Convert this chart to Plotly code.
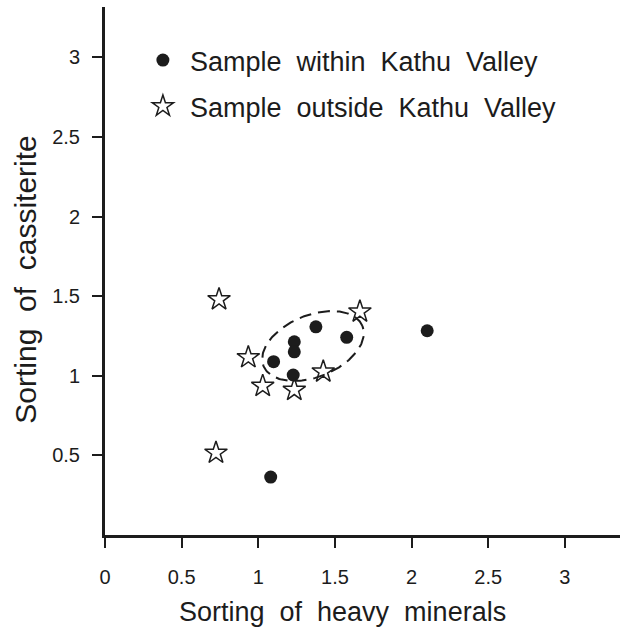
import numpy as np
import plotly.graph_objects as go

# Sorting coefficients of heavy minerals (x) vs cassiterite (y)
within_x = [1.10, 1.235, 1.235, 1.228, 1.376, 1.577, 2.102, 1.081]
within_y = [1.089, 1.214, 1.151, 1.005, 1.308, 1.242, 1.283, 0.364]

outside_x = [0.744, 0.935, 1.029, 1.235, 1.424, 1.663, 0.724]
outside_y = [1.48, 1.116, 0.936, 0.911, 1.026, 1.403, 0.516]

x_ticks = [0, 0.5, 1, 1.5, 2, 2.5, 3]
x_tick_text = ["0", "0.5", "1", "1.5", "2", "2.5", "3"]
y_ticks = [0.5, 1, 1.5, 2, 2.5, 3]
y_tick_text = ["0.5", "1", "1.5", "2", "2.5", "3"]

# Dashed envelope around the Kathu Valley cluster (tilted ellipse)
ENV_CENTER = (1.357, 1.187)
ENV_SEMI = (0.348, 0.202)    # semi-axes, in x-axis units
ENV_ANGLE = np.deg2rad(22)
Y_PER_X = 153.3 / 159.2      # on-screen aspect of the axes

INK = "#1c1c1c"
FONT = "Liberation Sans"
NB = "\u00a0"

t = np.linspace(0, 2 * np.pi, 200)
a, b = ENV_SEMI
ux = a * np.cos(t) * np.cos(ENV_ANGLE) - b * np.sin(t) * np.sin(ENV_ANGLE)
uy = a * np.cos(t) * np.sin(ENV_ANGLE) + b * np.sin(t) * np.cos(ENV_ANGLE)
env_x = ENV_CENTER[0] + ux
env_y = ENV_CENTER[1] + uy * Y_PER_X

fig = go.Figure()

fig.add_trace(go.Scatter(
    x=env_x, y=env_y, mode="lines",
    line=dict(color=INK, width=2, dash="12px,7px"),
    showlegend=False, hoverinfo="skip",
))

fig.add_trace(go.Scatter(
    x=within_x, y=within_y, mode="markers",
    name=f"Sample{NB*2}within{NB*2}Kathu{NB*2}Valley",
    legendgroup="a",
    marker=dict(symbol="circle", size=13, color=INK),
))

fig.add_trace(go.Scatter(
    x=outside_x, y=outside_y, mode="markers",
    name=f"Sample{NB*2}outside{NB*2}Kathu{NB*2}Valley",
    legendgroup="b",
    marker=dict(symbol="star-open", size=17, color=INK, line=dict(width=1.5, color=INK)),
))

axis_common = dict(
    showline=True, linewidth=3, linecolor=INK,
    ticks="outside", ticklen=10, tickwidth=2, tickcolor=INK,
    showgrid=False, zeroline=False,
    tickfont=dict(family=FONT, size=20, color=INK),
)

fig.update_xaxes(range=[0, 3.36], tickvals=x_ticks, ticktext=x_tick_text,
                 ticklabelstandoff=12, **axis_common)
fig.update_yaxes(range=[0, 3.317], tickvals=y_ticks, ticktext=y_tick_text,
                 ticklabelstandoff=8, **axis_common)

fig.add_annotation(
    text=f"Sorting{NB*2}of{NB*2}heavy{NB*2}minerals",
    xref="paper", yref="paper", x=0.462, y=-0.146,
    xanchor="center", yanchor="middle", showarrow=False,
    font=dict(family=FONT, size=27, color=INK),
)
fig.add_annotation(
    text=f"Sorting{NB*2}of{NB*2}cassiterite",
    xref="paper", yref="paper", x=-0.154, y=0.483,
    xanchor="center", yanchor="middle", showarrow=False, textangle=-90,
    font=dict(family=FONT, size=30, color=INK),
)

fig.update_layout(
    width=620, height=640, autosize=False,
    margin=dict(l=105, r=0, t=7, b=105),
    paper_bgcolor="white", plot_bgcolor="white",
    showlegend=True,
    legend=dict(
        x=0.06, y=0.945, xanchor="left", yanchor="top",
        font=dict(family=FONT, size=27, color=INK),
        bgcolor="rgba(0,0,0,0)", borderwidth=0,
        traceorder="grouped", tracegroupgap=8, itemwidth=44,
    ),
)

fig.write_html("out.html")
